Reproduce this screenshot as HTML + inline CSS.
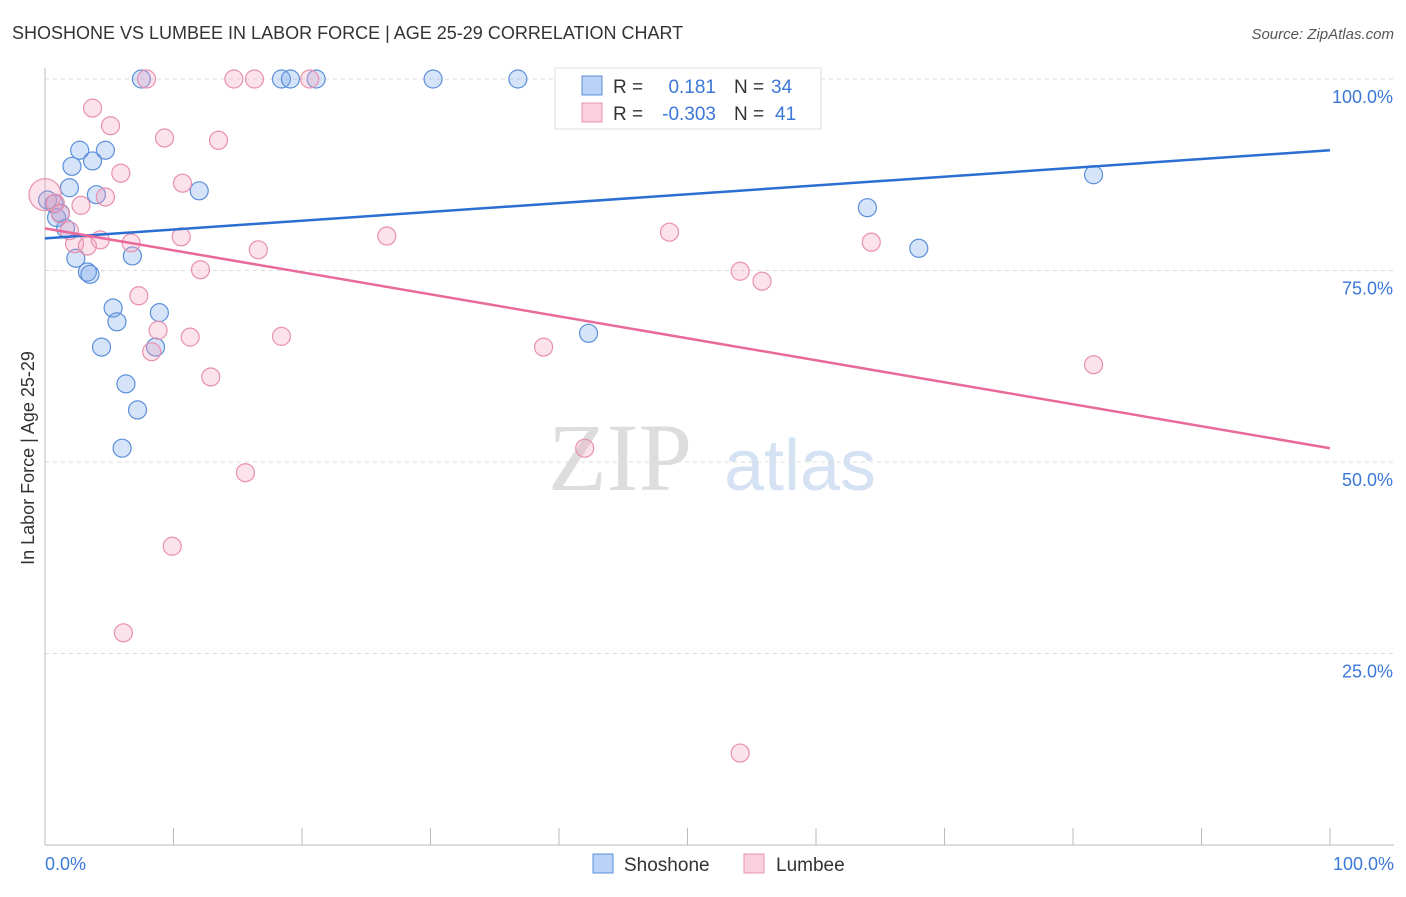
<!DOCTYPE html>
<html><head><meta charset="utf-8"><style>
body{margin:0;background:#fff;font-family:"Liberation Sans",sans-serif;}
</style></head><body>
<svg width="1406" height="892" id="chart" xmlns="http://www.w3.org/2000/svg">
<text x="12" y="39" font-size="18" fill="#333">SHOSHONE VS LUMBEE IN LABOR FORCE | AGE 25-29 CORRELATION CHART</text>
<text x="1394" y="39" font-size="15" fill="#555" font-style="italic" text-anchor="end">Source: ZipAtlas.com</text>
<text x="620" y="490" font-size="96" fill="#ddd" font-family="Liberation Serif,serif" text-anchor="middle">ZIP</text>
<text x="800" y="490" font-size="72" fill="#d5e2f3" text-anchor="middle">atlas</text>
<g id="grid"></g>
<line x1="45" y1="68" x2="45" y2="845" stroke="#bbb"/>
<line x1="45" y1="845" x2="1394" y2="845" stroke="#bbb"/>
<text x="34" y="458" font-size="18" fill="#333" text-anchor="middle" transform="rotate(-90 34 458)">In Labor Force | Age 25-29</text>
<text x="45" y="870" font-size="18" fill="#3b78d8">0.0%</text>
<text x="1394" y="870" font-size="18" fill="#3b78d8" text-anchor="end">100.0%</text>
<g id="pts"></g>
<g>
<rect x="555" y="68" width="266" height="61" fill="#fff" stroke="#ddd"/>
<rect x="582" y="76" width="20" height="19" fill="#b9d2f5" stroke="#5b8fd9"/>
<rect x="582" y="103" width="20" height="19" fill="#fbd0de" stroke="#e890ad"/>
<text x="613" y="93" font-size="19" fill="#333">R =</text><text x="716" y="93" font-size="19" fill="#3b78d8" text-anchor="end">0.181</text>
<text x="734" y="93" font-size="19" fill="#333">N =</text><text x="771" y="93" font-size="19" fill="#3b78d8">34</text>
<text x="613" y="120" font-size="19" fill="#333">R =</text><text x="716" y="120" font-size="19" fill="#3b78d8" text-anchor="end">-0.303</text>
<text x="734" y="120" font-size="19" fill="#333">N =</text><text x="775" y="120" font-size="19" fill="#3b78d8">41</text>
</g>
<g>
<rect x="593" y="854" width="20" height="19" fill="#b9d2f5" stroke="#5b8fd9"/>
<text x="624" y="871" font-size="19" fill="#333">Shoshone</text>
<rect x="744" y="854" width="20" height="19" fill="#fbd0de" stroke="#e890ad"/>
<text x="776" y="871" font-size="19" fill="#333">Lumbee</text>
</g>
</svg>
<script>
const yTicks=[100,75,50,25];
const yTickLabels=["100.0%","75.0%","50.0%","25.0%"];
const xTicks=[0,10,20,30,40,50,60,70,80,90,100];
const shoshoneX=[7.5,18.4,19.1,21.1,30.2,36.8,2.1,2.7,3.7,4.7,1.9,4.0,12.0,81.6,64.0,68.0,0.2,0.7,0.9,1.2,1.6,2.4,3.3,3.5,6.8,5.3,5.6,8.9,4.4,8.6,6.3,7.2,6.0,42.3];
const shoshoneY=[100,100,100,100,100,100,88.6,90.7,89.3,90.7,85.8,84.9,85.4,87.5,83.2,77.9,84.2,83.7,81.9,82.5,80.5,76.6,74.8,74.5,76.9,70.1,68.3,69.5,65.0,65.0,60.2,56.8,51.8,66.8];
const lumbeeX=[7.9,14.7,16.3,20.6,3.7,5.1,9.3,13.5,5.9,10.7,4.7,2.8,0,0.8,1.2,1.9,2.3,3.3,4.3,6.7,10.6,16.6,12.1,26.6,48.6,64.3,54.1,55.8,7.3,8.8,11.3,18.4,8.3,38.8,12.9,81.6,42.0,15.6,9.9,6.1,54.1];
const lumbeeY=[100,100,100,100,96.2,93.9,92.3,92.0,87.7,86.4,84.6,83.5,84.9,83.8,82.4,80.2,78.5,78.2,79.0,78.6,79.4,77.7,75.1,79.5,80.0,78.7,74.9,73.6,71.7,67.2,66.3,66.4,64.4,65.0,61.1,62.7,51.8,48.6,39.0,27.7,12.0];
const shoshoneTrend=[79.2,90.7];
const lumbeeTrend=[80.5,51.8];
const NS="http://www.w3.org/2000/svg";
const sx=v=>45+v*12.85, sy=v=>845-v*7.66;
function mk(t,a,p){const e=document.createElementNS(NS,t);for(const k in a)e.setAttribute(k,a[k]);p.appendChild(e);return e;}
const grid=document.getElementById('grid');
yTicks.forEach((t,i)=>{
 const l=mk('line',{x1:45,x2:1394,y1:sy(t),y2:sy(t),stroke:'#ddd','stroke-dasharray':'4,4'},grid);
 
 
 const tx=mk('text',{x:1393,y:sy(t)+24,'font-size':18,fill:'#3b78d8','text-anchor':'end'},grid);
 tx.textContent=yTickLabels[i];
 
 
});
xTicks.forEach(t=>{
 const l=mk('line',{x1:sx(t),x2:sx(t),y1:828,y2:845,stroke:'#bbb'},grid);
 
 
});
const pts=document.getElementById('pts');
function series(X,Y,fill,stroke,name){
 X.forEach((x,i)=>{
  const r=(x===0)?16:9;
  const c=mk('circle',{cx:sx(x),cy:sy(Y[i]),r:r,fill:fill,stroke:stroke,'stroke-width':1.2},pts);
  
  
 });
}
series(shoshoneX,shoshoneY,'rgba(120,165,235,0.3)','#5b8fd9','shoshone');
series(lumbeeX,lumbeeY,'rgba(245,160,190,0.3)','#e890ad','lumbee');
const t1=mk('line',{x1:sx(0),x2:sx(100),y1:sy(shoshoneTrend[0]),y2:sy(shoshoneTrend[1]),stroke:'#2a6fd1','stroke-width':2.5},pts);


const t2=mk('line',{x1:sx(0),x2:sx(100),y1:sy(lumbeeTrend[0]),y2:sy(lumbeeTrend[1]),stroke:'#e8699a','stroke-width':2.5},pts);


</script>
</body></html>
